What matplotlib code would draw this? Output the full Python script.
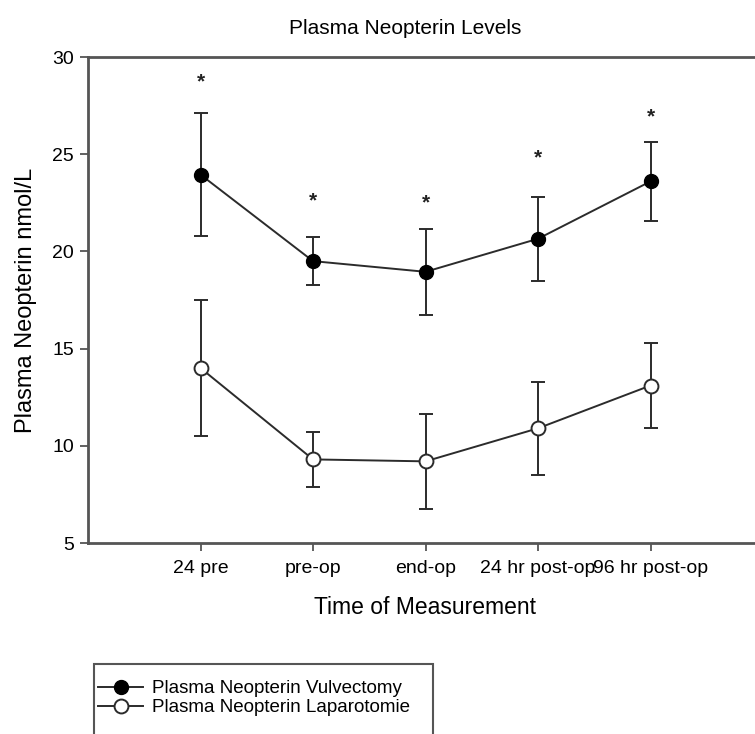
import matplotlib
matplotlib.use("Agg")
import matplotlib.pyplot as plt
from matplotlib.lines import Line2D
from matplotlib.patches import Rectangle

plt.rcParams["font.family"] = ["Liberation Sans", "DejaVu Sans"]

# time points and group means / error bars (nmol/L)
time_labels = ["24 pre", "pre-op", "end-op", "24 hr post-op", "96 hr post-op"]
positions = [1, 2, 3, 4, 5]

vulv_mean = [23.95, 19.5, 18.95, 20.65, 23.6]
vulv_err = [3.15, 1.25, 2.2, 2.15, 2.05]

lapa_mean = [14.0, 9.3, 9.2, 10.9, 13.1]
lapa_err = [3.5, 1.4, 2.45, 2.4, 2.2]

# significance markers above the vulvectomy series
star_y = [28.7, 22.6, 22.5, 24.8, 26.9]

W, H = 755, 734
fig = plt.figure(figsize=(W / 100, H / 100), dpi=100)
ax = fig.add_axes([88 / W, (H - 543) / H, (763 - 88) / W, (543 - 57) / H])

line_color = "#2b2b2b"
common = dict(color=line_color, lw=1.4, elinewidth=1.4, capsize=5, capthick=1.4,
              marker="o", ms=10, zorder=3)
ax.errorbar(positions, vulv_mean, yerr=vulv_err, mfc="black", mec="black", **common)
ax.errorbar(positions, lapa_mean, yerr=lapa_err, mfc="white", mec=line_color,
            mew=1.4, **common)

for x, y in zip(positions, star_y):
    ax.text(x, y, "*", ha="center", va="center", fontsize=15, fontweight="bold",
            color="#222222")

ax.set_xlim(0, 6)
ax.set_ylim(5, 30)
ax.set_yticks([5, 10, 15, 20, 25, 30])
ax.set_xticks(positions)
ax.set_xticklabels(time_labels)
ax.tick_params(axis="y", labelsize=14, length=6, width=1.3, color="#555555", pad=4)
ax.tick_params(axis="x", labelsize=14, length=6, width=1.3, color="#555555", pad=6)

for side in ["left", "top", "bottom"]:
    ax.spines[side].set_linewidth(2)
    ax.spines[side].set_color("#555555")
ax.spines["right"].set_visible(False)

ax.set_xlabel("Time of Measurement", fontsize=16.5, labelpad=14)
ax.set_ylabel("Plasma Neopterin nmol/L", fontsize=17, labelpad=11)
fig.text(405 / W, 1 - 28 / H, "Plasma Neopterin Levels", ha="center",
         va="center", fontsize=15)

# legend box runs off the bottom of the figure
fig.patches.append(Rectangle((94 / W, -0.05), (433 - 94) / W, 0.05 + (H - 664) / H,
                             transform=fig.transFigure, fill=False,
                             edgecolor="#555555", lw=1.5))
handles = [
    Line2D([], [], color=line_color, lw=1.4, marker="o", ms=10, mfc="black",
           mec="black"),
    Line2D([], [], color=line_color, lw=1.4, marker="o", ms=10, mfc="white",
           mec=line_color, mew=1.4),
]
labels = ["Plasma Neopterin Vulvectomy", "Plasma Neopterin Laparotomie"]
fig.legend(handles, labels, loc="upper left", bbox_to_anchor=(98 / W, 1 - 680 / H),
           frameon=False, fontsize=13.5, handlelength=2.4, handletextpad=0.5,
           labelspacing=0.12, borderpad=0, borderaxespad=0)

fig.savefig("out.png", dpi=100)
